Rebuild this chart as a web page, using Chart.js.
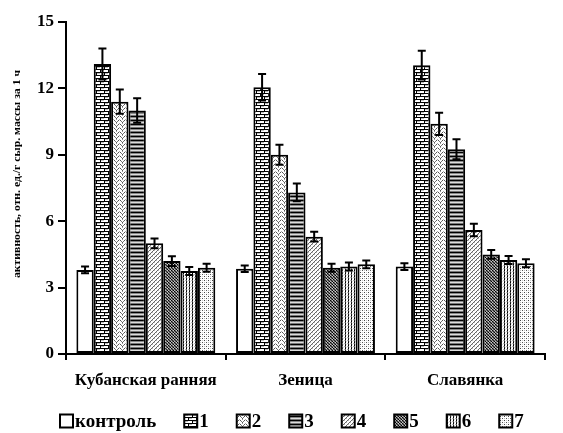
<!DOCTYPE html>
<html>
<head>
<meta charset="utf-8">
<script src="https://cdn.jsdelivr.net/npm/chart.js@4.4.1/dist/chart.umd.min.js"></script>
<style>
  html, body { margin: 0; padding: 0; background: #fff; }
  #wrap { width: 563px; height: 433px; }
</style>
</head>
<body>
<div id="wrap"><canvas id="activityChart" width="563" height="433"></canvas></div>
<script>
// сорта и варианты опыта
const categories = ['Кубанская ранняя', 'Зеница', 'Славянка'];
const seriesNames = ['контроль', '1', '2', '3', '4', '5', '6', '7'];
const yTicks = [0, 3, 6, 9, 12, 15];
const yTitle = 'активность, отн. ед./г сыр. массы за 1 ч';

// средние значения по вариантам (Кубанская ранняя, Зеница, Славянка)
const control = [3.8, 3.85, 3.95];
const v1 = [13.1, 12.05, 13.05];
const v2 = [11.4, 9.0, 10.4];
const v3 = [11.0, 7.3, 9.25];
const v4 = [5.0, 5.3, 5.6];
const v5 = [4.2, 3.9, 4.5];
const v6 = [3.75, 3.95, 4.25];
const v7 = [3.9, 4.05, 4.1];

// ошибки среднего
const errControl = [0.15, 0.15, 0.15];
const err1 = [0.7, 0.6, 0.65];
const err2 = [0.55, 0.45, 0.5];
const err3 = [0.55, 0.4, 0.45];
const err4 = [0.22, 0.22, 0.28];
const err5 = [0.22, 0.18, 0.2];
const err6 = [0.18, 0.18, 0.18];
const err7 = [0.18, 0.18, 0.18];

const values = [control, v1, v2, v3, v4, v5, v6, v7];
const errors = [errControl, err1, err2, err3, err4, err5, err6, err7];

const serif = '"Liberation Serif", "DejaVu Serif", serif';
const ctx = document.getElementById('activityChart').getContext('2d');

function makePattern(w, h, draw) {
  const c = document.createElement('canvas');
  c.width = w; c.height = h;
  const g = c.getContext('2d');
  g.fillStyle = '#fff';
  g.fillRect(0, 0, w, h);
  draw(g);
  return ctx.createPattern(c, 'repeat');
}

function px(g, x, y, col) { g.fillStyle = col; g.fillRect(x, y, 1, 1); }

const fills = [
  '#ffffff',
  // 1 - кирпич
  makePattern(8, 6, g => {
    g.fillStyle = '#000';
    g.fillRect(0, 0, 8, 1); g.fillRect(0, 3, 8, 1);
    g.fillRect(0, 0, 1, 3); g.fillRect(4, 3, 1, 3);
    g.fillStyle = '#bbb';
    g.fillRect(1, 1, 3, 1); g.fillRect(5, 4, 3, 1);
  }),
  // 2 - волна
  makePattern(6, 4, g => {
    px(g, 0, 0, '#555'); px(g, 1, 1, '#777'); px(g, 2, 2, '#555');
    px(g, 3, 1, '#777'); px(g, 4, 0, '#555'); px(g, 5, 3, '#aaa');
    px(g, 2, 3, '#999');
  }),
  // 3 - горизонтальные полосы
  makePattern(4, 4, g => {
    g.fillStyle = '#000'; g.fillRect(0, 0, 4, 1);
    g.fillStyle = '#888'; g.fillRect(0, 1, 4, 1);
    g.fillStyle = '#ddd'; g.fillRect(0, 2, 4, 1);
    g.fillStyle = '#777'; g.fillRect(0, 3, 4, 1);
  }),
  // 4 - диагональ
  makePattern(4, 4, g => {
    for (let i = 0; i < 4; i++) px(g, i, 3 - i, '#666');
    px(g, 0, 0, '#bbb'); px(g, 2, 2, '#bbb');
  }),
  // 5 - плотная сетка
  makePattern(3, 3, g => {
    g.fillStyle = '#777'; g.fillRect(0, 0, 3, 3);
    px(g, 0, 0, '#000'); px(g, 1, 1, '#222'); px(g, 2, 2, '#000');
    px(g, 2, 0, '#ccc'); px(g, 0, 2, '#bbb');
  }),
  // 6 - вертикальный пунктир
  makePattern(3, 3, g => {
    px(g, 0, 0, '#000'); px(g, 0, 1, '#666'); px(g, 0, 2, '#222');
    px(g, 2, 1, '#bbb'); px(g, 1, 2, '#ddd');
  }),
  // 7 - редкие точки
  makePattern(4, 4, g => {
    px(g, 0, 0, '#444'); px(g, 2, 2, '#555');
    px(g, 2, 0, '#ccc'); px(g, 0, 2, '#bbb');
  })
];

const datasets = seriesNames.map((name, i) => ({
  label: name,
  data: values[i],
  errors: errors[i],
  backgroundColor: fills[i],
  borderColor: '#000',
  borderWidth: 2,
  borderSkipped: false,
  categoryPercentage: 0.87,
  barPercentage: 1.0
}));

const errorBars = {
  id: 'errorBars',
  afterDatasetsDraw(chart) {
    const y = chart.scales.y;
    const c = chart.ctx;
    c.save();
    c.strokeStyle = '#000';
    c.lineWidth = 2;
    chart.data.datasets.forEach((ds, i) => {
      chart.getDatasetMeta(i).data.forEach((bar, j) => {
        const v = ds.data[j], e = ds.errors[j];
        const top = y.getPixelForValue(v + e);
        const bot = y.getPixelForValue(v - e);
        c.beginPath();
        c.moveTo(bar.x, top); c.lineTo(bar.x, bot);
        c.moveTo(bar.x - 4, top); c.lineTo(bar.x + 4, top);
        c.moveTo(bar.x - 4, bot); c.lineTo(bar.x + 4, bot);
        c.stroke();
      });
    });
    c.restore();
  }
};

// подпись оси Y и легенда рисуются вручную
const extras = {
  id: 'extras',
  afterDraw(chart) {
    const c = chart.ctx;
    c.save();
    c.fillStyle = '#000';
    c.font = 'bold 10px ' + serif;
    const w = c.measureText(yTitle).width;
    c.translate(17, 174);
    c.rotate(-Math.PI / 2);
    c.scale(208 / w, 1);
    c.textAlign = 'center';
    c.textBaseline = 'middle';
    c.fillText(yTitle, 0, 0);
    c.restore();

    c.save();
    c.font = 'bold 19px ' + serif;
    c.textBaseline = 'middle';
    let x = 60;
    const yc = 421;
    chart.data.datasets.forEach((ds, i) => {
      c.fillStyle = ds.backgroundColor;
      c.fillRect(x, yc - 6.5, 13, 13);
      c.strokeStyle = '#000';
      c.lineWidth = 2;
      c.strokeRect(x, yc - 6.5, 13, 13);
      c.fillStyle = '#000';
      c.fillText(ds.label, x + 15, yc + 1);
      x += 15 + c.measureText(ds.label).width + 28;
    });
    c.restore();
  }
};

new Chart(ctx, {
  type: 'bar',
  data: { labels: categories, datasets },
  options: {
    responsive: false,
    animation: false,
    layout: { padding: { top: 22, right: 18, bottom: 30, left: 0 } },
    plugins: {
      legend: { display: false },
      tooltip: { enabled: false }
    },
    scales: {
      x: {
        border: { color: '#000', width: 2 },
        grid: { display: true, offset: true, drawOnChartArea: false, color: '#000', lineWidth: 2, tickLength: 6 },
        ticks: { color: '#000', font: { family: serif, size: 17, weight: 'bold' }, padding: 10, maxRotation: 0 },
        afterFit(s) { s.height = 49; }
      },
      y: {
        min: 0,
        max: 15,
        afterBuildTicks(s) { s.ticks = yTicks.map(v => ({ value: v })); },
        border: { color: '#000', width: 2 },
        grid: { drawOnChartArea: false, color: '#000', lineWidth: 2, tickLength: 8 },
        ticks: { color: '#000', font: { family: serif, size: 17, weight: 'bold' }, padding: 4 },
        afterFit(s) { s.width = 66; }
      }
    }
  },
  plugins: [errorBars, extras]
});
</script>
</body>
</html>
